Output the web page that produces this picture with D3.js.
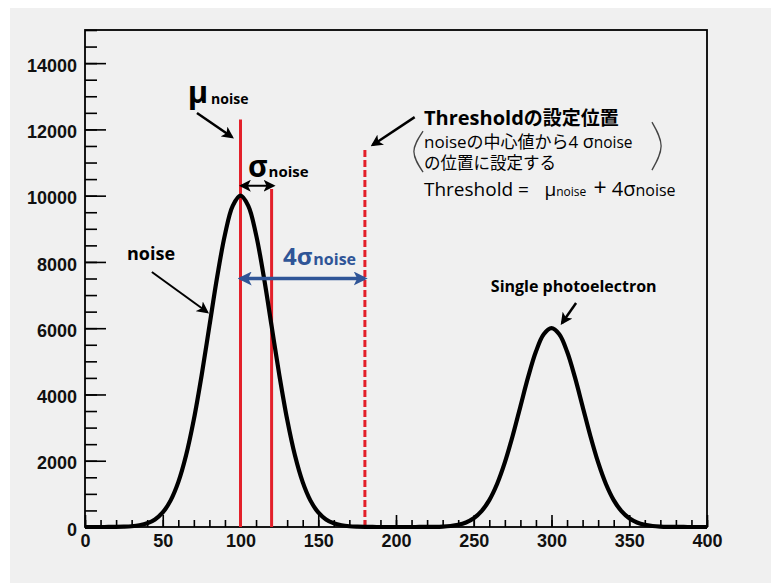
<!DOCTYPE html>
<html>
<head>
<meta charset="utf-8">
<script src="https://cdn.jsdelivr.net/npm/d3@7"></script>
<style>
  body { margin: 0; background: #ffffff; }
  svg { display: block; }
</style>
</head>
<body>
<svg id="chart" width="771" height="583"></svg>
<script>
// Pulse-height spectrum: noise peak + single photoelectron peak
const binCenters = [
  0, 5, 10, 15, 20, 25, 30, 35, 40, 45, 50, 55, 60, 65, 70, 75, 80, 85, 90, 95,
  100, 105, 110, 115, 120, 125, 130, 135, 140, 145, 150, 155, 160, 165, 170, 175, 180, 185, 190, 195,
  200, 205, 210, 215, 220, 225, 230, 235, 240, 245, 250, 255, 260, 265, 270, 275, 280, 285, 290, 295,
  300, 305, 310, 315, 320, 325, 330, 335, 340, 345, 350, 355, 360, 365, 370, 375, 380, 385, 390, 395, 400
];
const counts = [
  0, 0, 0, 1, 3, 9, 22, 51, 111, 228, 439, 796, 1353, 2163, 3247, 4578, 6065, 7548, 8825, 9692,
  10000, 9692, 8825, 7548, 6065, 4578, 3247, 2163, 1353, 796, 439, 228, 111, 51, 22, 9, 3, 1, 0, 0,
  0, 0, 0, 1, 2, 5, 13, 31, 67, 137, 263, 478, 812, 1298, 1948, 2747, 3639, 4529, 5295, 5815,
  6000, 5815, 5295, 4529, 3639, 2747, 1948, 1298, 812, 478, 263, 137, 67, 31, 13, 5, 2, 1, 0, 0, 0
];
const xTickValues = [0, 50, 100, 150, 200, 250, 300, 350, 400];
const xTickLabels = ["0", "50", "100", "150", "200", "250", "300", "350", "400"];
const yTickValues = [0, 2000, 4000, 6000, 8000, 10000, 12000, 14000];
const yTickLabels = ["0", "2000", "4000", "6000", "8000", "10000", "12000", "14000"];

// Noise parameters and the threshold derived from them
const muNoise = 100;
const sigmaNoise = 20;
const thresholdX = muNoise + 4 * sigmaNoise;   // 180
const muLineTop = 12300;
const sigmaLineTop = 10200;
const thresholdLineTop = 11400;
const sigmaArrowY = 10300;
const fourSigmaArrowY = 7500;

const W = 771, H = 583;
const x = d3.scaleLinear().domain([0, 400]).range([85, 707]);
const y = d3.scaleLinear().domain([0, 15000]).range([527, 30]);

const svg = d3.select("#chart");
const LABEL_FONT = "'Liberation Sans', Arial, Helvetica, sans-serif";
const NOTE_FONT = "'Open Sans', 'Noto Sans CJK JP', sans-serif";
const RED = "#e3202a";
const BLUE = "#2f5597";

// panel background
svg.append("rect").attr("x", 10).attr("y", 8).attr("width", W - 10).attr("height", H - 8).attr("fill", "#f0f0f0");

// arrow heads
const defs = svg.append("defs");
function addMarker(id, color, size) {
  defs.append("marker")
    .attr("id", id)
    .attr("viewBox", "0 0 10 10")
    .attr("refX", 8).attr("refY", 5)
    .attr("markerWidth", size).attr("markerHeight", size)
    .attr("markerUnits", "userSpaceOnUse")
    .attr("orient", "auto-start-reverse")
    .append("path").attr("d", "M0,0 L10,5 L0,10 L2.5,5 z").attr("fill", color);
}
addMarker("headBlack", "#000", 12);
addMarker("headBlue", BLUE, 14);

// axes (ticks point into the frame)
function styleAxis(g) {
  g.select(".domain").remove();
  g.selectAll(".tick line").attr("stroke", "#000").attr("stroke-width", 1.6);
  g.selectAll(".tick text")
    .attr("font-family", LABEL_FONT).attr("font-weight", "bold")
    .attr("font-size", 18).attr("fill", "#111");
}
svg.append("g").attr("transform", `translate(0,${y(0)})`)
  .call(d3.axisBottom(x).tickValues(d3.range(0, 401, 10)).tickSizeInner(-7).tickSizeOuter(0).tickFormat(""))
  .call(styleAxis);
svg.append("g").attr("transform", `translate(0,${y(0)})`)
  .call(d3.axisBottom(x).tickValues(xTickValues).tickSizeInner(-12).tickSizeOuter(0).tickPadding(7)
    .tickFormat((d, i) => xTickLabels[i]))
  .call(styleAxis);
svg.append("g").attr("transform", `translate(${x(0)},0)`)
  .call(d3.axisLeft(y).tickValues(d3.range(0, 15001, 500)).tickSizeInner(-12).tickSizeOuter(0).tickFormat(""))
  .call(styleAxis);
const gy = svg.append("g").attr("transform", `translate(${x(0)},0)`)
  .call(d3.axisLeft(y).tickValues(yTickValues).tickSizeInner(-21).tickSizeOuter(0).tickPadding(8)
    .tickFormat((d, i) => yTickLabels[i]))
  .call(styleAxis);
gy.selectAll(".tick text").attr("dy", "0.45em");

// frame
svg.append("rect")
  .attr("x", x(0)).attr("y", y(15000))
  .attr("width", x(400) - x(0)).attr("height", y(0) - y(15000))
  .attr("fill", "none").attr("stroke", "#000").attr("stroke-width", 1.8);

// mu, sigma and threshold markers
svg.append("line")
  .attr("x1", x(muNoise)).attr("x2", x(muNoise))
  .attr("y1", y(0)).attr("y2", y(muLineTop))
  .attr("stroke", RED).attr("stroke-width", 3);
svg.append("line")
  .attr("x1", x(muNoise + sigmaNoise)).attr("x2", x(muNoise + sigmaNoise))
  .attr("y1", y(0)).attr("y2", y(sigmaLineTop))
  .attr("stroke", RED).attr("stroke-width", 3);
svg.append("line")
  .attr("x1", x(thresholdX)).attr("x2", x(thresholdX))
  .attr("y1", y(0)).attr("y2", y(thresholdLineTop))
  .attr("stroke", RED).attr("stroke-width", 3)
  .attr("stroke-dasharray", "7,3");

// spectrum curve
const line = d3.line()
  .x((d, i) => x(binCenters[i]))
  .y(d => y(d))
  .curve(d3.curveCatmullRom.alpha(0.5));
svg.append("path")
  .datum(counts)
  .attr("d", line)
  .attr("fill", "none")
  .attr("stroke", "#000")
  .attr("stroke-width", 4.2)
  .attr("stroke-linejoin", "round");

// helpers for annotations
function arrow(x1, y1, x2, y2, color, width, marker, both) {
  const l = svg.append("line")
    .attr("x1", x(x1)).attr("y1", y(y1))
    .attr("x2", x(x2)).attr("y2", y(y2))
    .attr("stroke", color).attr("stroke-width", width)
    .attr("marker-end", `url(#${marker})`);
  if (both) l.attr("marker-start", `url(#${marker})`);
}
function label(xv, yv, parts, opts = {}) {
  const t = svg.append("text")
    .attr("x", x(xv)).attr("y", y(yv))
    .attr("font-family", opts.family || NOTE_FONT)
    .attr("fill", opts.fill || "#000");
  parts.forEach(p => {
    const s = t.append("tspan").text(p.text)
      .attr("font-size", p.size)
      .attr("font-weight", p.weight || "normal");
    if (p.dx) s.attr("dx", p.dx);
    if (p.dy) s.attr("dy", p.dy);
  });
  return t;
}

// sigma width arrow
arrow(muNoise + 0.5, sigmaArrowY, muNoise + sigmaNoise + 1, sigmaArrowY, "#000", 2, "headBlack", true);
// 4 sigma arrow
arrow(muNoise, fourSigmaArrowY, thresholdX, fourSigmaArrowY, BLUE, 3.5, "headBlue", true);

// pointer arrows
arrow(72, 12495, 94.5, 11770, "#000", 2.5, "headBlack");
arrow(212, 12370, 185, 11530, "#000", 2.5, "headBlack");
arrow(43, 7696, 78.5, 6489, "#000", 2, "headBlack");
arrow(315.8, 6760, 306.8, 6157, "#000", 2.5, "headBlack");

// labels
label(66, 12800, [
  { text: "μ", size: 31, weight: "bold" },
  { text: "noise", size: 14, weight: "bold", dx: 3, dy: 1 }
]);
label(104.8, 10560, [
  { text: "σ", size: 30, weight: "bold" },
  { text: "noise", size: 15, weight: "bold", dx: 1 }
]);
label(127.3, 7907, [
  { text: "4σ", size: 24, weight: "bold" },
  { text: "noise", size: 16, weight: "bold", dx: 1 }
], { fill: BLUE });
label(27, 8058, [{ text: "noise", size: 18, weight: "bold" }]);
label(261, 7092, [{ text: "Single photoelectron", size: 16, weight: "bold" }]);

label(218, 12130, [
  { text: "Threshold", size: 20, weight: "bold" },
  { text: "の設定位置", size: 19, weight: "bold" }
]);
label(218, 11440, [
  { text: "noiseの中心値から4 ", size: 17 },
  { text: "σ", size: 18 },
  { text: "noise", size: 15.5 }
]);
label(218, 10800, [{ text: "の位置に設定する", size: 16.5 }]);
label(218, 9990, [{ text: "Threshold =", size: 19 }]);
label(295.5, 9990, [
  { text: "μ", size: 19 },
  { text: "noise", size: 12 }
]);
label(327, 9990, [{ text: "+", size: 23 }]);
label(338.8, 9990, [
  { text: "4σ", size: 20 },
  { text: "noise", size: 16 }
]);

// brackets around the explanation
const bracket = d3.line().x(d => x(d[0])).y(d => y(d[1])).curve(d3.curveNatural);
svg.append("path").attr("d", bracket([[217.4, 11950], [211.5, 11330], [217.4, 10710]]))
  .attr("fill", "none").attr("stroke", "#444").attr("stroke-width", 1.3);
svg.append("path").attr("d", bracket([[364.6, 12220], [370.5, 11500], [364.6, 10770]]))
  .attr("fill", "none").attr("stroke", "#444").attr("stroke-width", 1.3);
</script>
</body>
</html>
